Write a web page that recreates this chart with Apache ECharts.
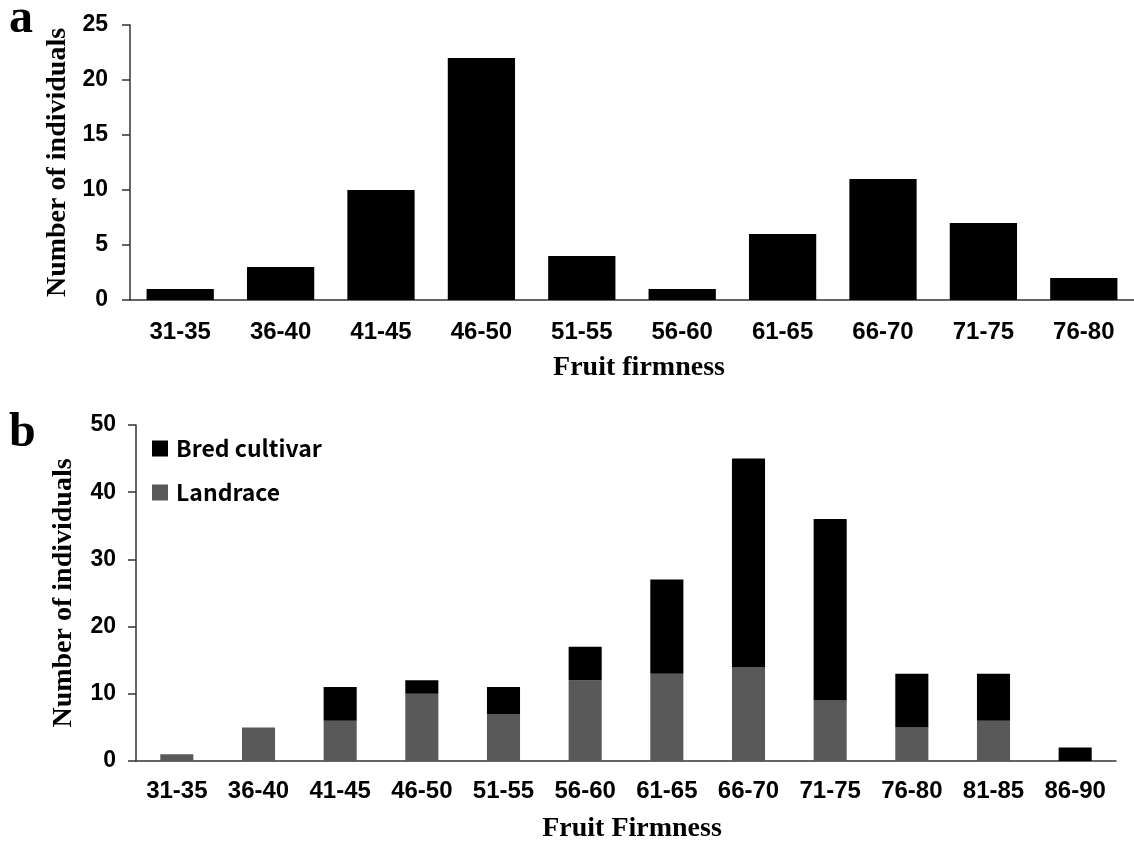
<!DOCTYPE html>
<html>
<head>
<meta charset="utf-8">
<script src="https://cdn.jsdelivr.net/npm/echarts@6/dist/echarts.min.js"></script>
<style>
  html, body { margin: 0; padding: 0; background: #fff; }
  #chart { width: 1134px; height: 842px; }
</style>
</head>
<body>
<div id="chart"></div>
<script>
// panel a
var catsA = ['31-35', '36-40', '41-45', '46-50', '51-55', '56-60', '61-65', '66-70', '71-75', '76-80'];
var countsA = [1, 3, 10, 22, 4, 1, 6, 11, 7, 2];
var ticksA = [0, 5, 10, 15, 20, 25];

// panel b
var catsB = ['31-35', '36-40', '41-45', '46-50', '51-55', '56-60', '61-65', '66-70', '71-75', '76-80', '81-85', '86-90'];
var landrace = [1, 5, 6, 10, 7, 12, 13, 14, 9, 5, 6, 0];
var bred = [0, 0, 5, 2, 4, 5, 14, 31, 27, 8, 7, 2];
var ticksB = [0, 10, 20, 30, 40, 50];

var serif = '"Liberation Serif", "Times New Roman", serif';
var sans = '"Liberation Sans", Arial, sans-serif';

var myChart = echarts.init(document.getElementById('chart'));

function yAx(grid, ticks, gap, margin) {
    return {
        type: 'value', gridIndex: grid,
        min: ticks[0], max: ticks[ticks.length - 1], interval: ticks[1] - ticks[0],
        name: 'Number of individuals', nameLocation: 'middle', nameGap: gap, nameRotate: 90,
        nameTextStyle: { fontFamily: serif, fontWeight: 'bold', fontSize: 28, color: '#000' },
        axisLine: { show: true, lineStyle: { color: '#333', width: 1.5 } },
        axisTick: { show: true, length: 8, lineStyle: { color: '#333', width: 1.5 } },
        axisLabel: { margin: margin, fontFamily: sans, fontWeight: 'bold', fontSize: 23, color: '#000' },
        splitLine: { show: false }
    };
}
function xAx(grid, cats, margin) {
    return {
        type: 'category', gridIndex: grid, data: cats,
        axisLine: { lineStyle: { color: '#333', width: 1.5 } },
        axisTick: { show: false },
        axisLabel: { margin: margin, interval: 0, fontFamily: sans, fontWeight: 'bold', fontSize: 24, color: '#000' }
    };
}

myChart.setOption({
    animation: false,
    title: [
        { text: 'a', left: 4, top: -9, textStyle: { fontFamily: serif, fontWeight: 'bold', fontSize: 48, color: '#000' } },
        { text: 'b', left: 4, top: 405, textStyle: { fontFamily: serif, fontWeight: 'bold', fontSize: 48, color: '#000' } },
        { text: 'Fruit firmness', left: 634, top: 349, textAlign: 'center', textStyle: { fontFamily: serif, fontWeight: 'bold', fontSize: 28, color: '#000' } },
        { text: 'Fruit Firmness', left: 627, top: 810, textAlign: 'center', textStyle: { fontFamily: serif, fontWeight: 'bold', fontSize: 28, color: '#000' } }
    ],
    legend: {
        data: ['Bred cultivar', 'Landrace'],
        orient: 'vertical', left: 147, top: 432, itemGap: 21,
        itemWidth: 16, itemHeight: 16, icon: 'rect',
        textStyle: { fontFamily: '"Noto Sans CJK KR", "Noto Sans", sans-serif', fontSize: 23, fontWeight: 'bold', color: '#000', padding: [0, 0, 0, 3] }
    },
    grid: [
        { left: 130, top: 25, width: 1012, height: 275 },
        { left: 136, top: 425, width: 980, height: 336 }
    ],
    xAxis: [xAx(0, catsA, 20), xAx(1, catsB, 18)],
    yAxis: [yAx(0, ticksA, 57, 22), yAx(1, ticksB, 58, 20)],
    series: [
        { name: 'Count', type: 'bar', xAxisIndex: 0, yAxisIndex: 0, data: countsA, barWidth: '67%', itemStyle: { color: '#000' } },
        { name: 'Landrace', type: 'bar', stack: 'b', xAxisIndex: 1, yAxisIndex: 1, data: landrace, barWidth: '40.5%', itemStyle: { color: '#595959' } },
        { name: 'Bred cultivar', type: 'bar', stack: 'b', xAxisIndex: 1, yAxisIndex: 1, data: bred, barWidth: '40.5%', itemStyle: { color: '#000' } }
    ]
});
</script>
</body>
</html>
